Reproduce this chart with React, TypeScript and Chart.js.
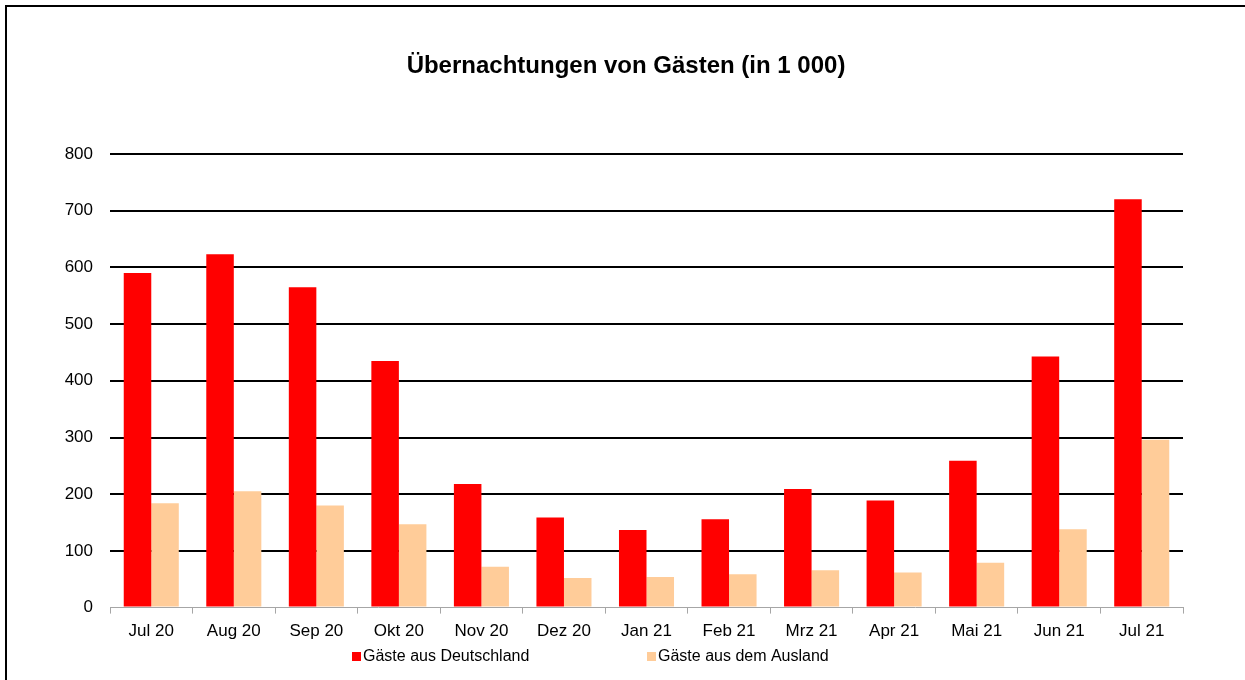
import React, { useEffect, useRef } from "react";
import { Chart, registerables } from "chart.js";

Chart.register(...registerables);

const categories = ["Jul 20", "Aug 20", "Sep 20", "Okt 20", "Nov 20", "Dez 20", "Jan 21", "Feb 21", "Mrz 21", "Apr 21", "Mai 21", "Jun 21", "Jul 21"];
const inlandValues = [590, 623, 565, 435, 218, 159, 137, 156, 209, 189, 259, 443, 720];
const auslandValues = [184, 205, 180, 147, 72, 52, 54, 59, 66, 62, 79, 138, 296];
const seriesLabels = ["Gäste aus Deutschland", "Gäste aus dem Ausland"];
const seriesColors = ["#FF0000", "#FFCC99"];
const titleText = "Übernachtungen von Gästen (in 1 000)";

const FONT = "'Liberation Sans', Arial, Helvetica, sans-serif";

const decorPlugin = {
  id: "decor",
  afterDraw(chart: any) {
    const ctx = chart.ctx;
    ctx.save();
    // title
    ctx.font = `bold 24px ${FONT}`;
    ctx.fillStyle = "#000";
    ctx.textAlign = "center";
    ctx.textBaseline = "middle";
    ctx.fillText(titleText, 626, 66);
    // legend
    const starts = [352, 647];
    const y = 656;
    ctx.font = `16px ${FONT}`;
    ctx.textAlign = "left";
    chart.data.datasets.forEach((ds: any, i: number) => {
      const x = starts[i];
      ctx.fillStyle = ds.backgroundColor;
      ctx.fillRect(x, y - 4, 9, 9);
      ctx.fillStyle = "#000";
      ctx.fillText(ds.label, x + 11, y + 1);
    });
    ctx.restore();
  },
};

export default function App() {
  const canvasRef = useRef<HTMLCanvasElement | null>(null);

  useEffect(() => {
    document.body.style.margin = "0";
    const canvas = canvasRef.current;
    if (!canvas) return;
    const chart = new Chart(canvas, {
      type: "bar",
      data: {
        labels: categories,
        datasets: [
          { label: seriesLabels[0], data: inlandValues, backgroundColor: seriesColors[0], borderWidth: 0 },
          { label: seriesLabels[1], data: auslandValues, backgroundColor: seriesColors[1], borderWidth: 0 },
        ],
      },
      options: {
        responsive: false,
        animation: false,
        layout: { padding: { left: 0, right: 62, top: 154, bottom: 30 } },
        datasets: { bar: { categoryPercentage: 0.667, barPercentage: 1 } },
        plugins: {
          legend: { display: false },
          tooltip: { enabled: false },
          title: { display: false },
        },
        scales: {
          x: {
            grid: {
              display: true,
              drawOnChartArea: false,
              drawTicks: true,
              tickLength: 6,
              color: "#A6A6A6",
              offset: true,
            },
            border: { display: true, color: "#A6A6A6", width: 1 },
            ticks: {
              color: "#000",
              font: { family: FONT, size: 17 },
              padding: 8,
              maxRotation: 0,
              autoSkip: false,
            },
          },
          y: {
            min: 0,
            max: 800,
            afterFit(scale: any) {
              scale.width = 110;
            },
            grid: {
              drawTicks: false,
              lineWidth: 2,
              color: (c: any) => (c.tick && c.tick.value === 0 ? "rgba(0,0,0,0)" : "#000"),
            },
            border: { display: false },
            ticks: {
              stepSize: 100,
              color: "#000",
              font: { family: FONT, size: 17 },
              padding: 17,
            },
          },
        },
      },
      plugins: [decorPlugin],
    });
    return () => chart.destroy();
  }, []);

  return (
    <div style={{ position: "relative", width: 1245, height: 680, overflow: "hidden", background: "#fff" }}>
      <div
        style={{
          position: "absolute",
          left: 5,
          top: 5,
          width: 1400,
          height: 900,
          borderLeft: "2px solid #000",
          borderTop: "2px solid #000",
          boxSizing: "border-box",
        }}
      />
      <canvas ref={canvasRef} width={1245} height={680} style={{ position: "absolute", left: 0, top: 0 }} />
    </div>
  );
}
